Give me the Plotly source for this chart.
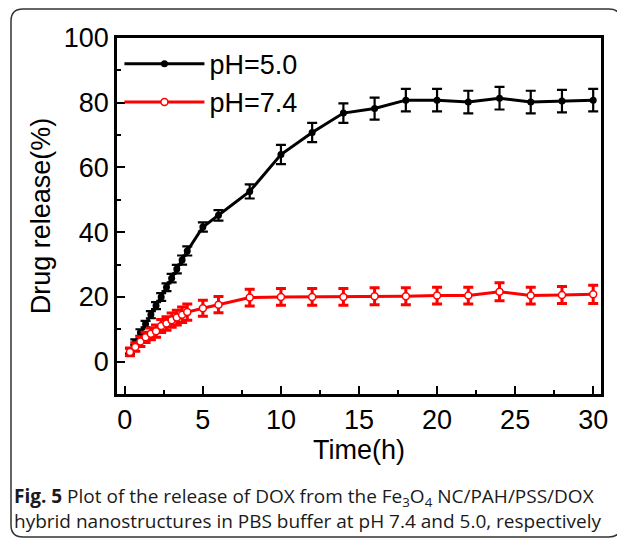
import plotly.graph_objects as go

# Time points (h)
time_h = [0.33, 0.67, 1.0, 1.33, 1.67, 2.0, 2.33, 2.67, 3.0, 3.33, 3.67, 4.0,
          5, 6, 8, 10, 12, 14, 16, 18, 20, 22, 24, 26, 28, 30]

# pH 5.0 release (%) and error
ph50 = [3.3, 6.0, 9.0, 11.6, 14.5, 17.3, 20.0, 23.0, 25.8, 28.6, 31.4, 34.2,
        41.6, 45.2, 52.6, 64.0, 70.8, 76.8, 78.2, 80.8, 80.8, 80.2, 81.4, 80.2, 80.5, 80.8]
ph50_err = [0.8, 0.9, 1.0, 1.0, 1.1, 1.1, 1.2, 1.2, 1.3, 1.3, 1.4, 1.4,
            1.4, 1.6, 2.2, 3.0, 3.0, 3.0, 3.4, 3.5, 3.5, 3.5, 3.5, 3.5, 3.5, 3.5]

# pH 7.4 release (%) and error
ph74 = [3.0, 4.5, 6.2, 7.5, 8.6, 9.4, 11.0, 11.8, 12.8, 13.6, 14.5, 15.3,
        16.5, 17.6, 19.8, 20.0, 20.0, 20.0, 20.2, 20.2, 20.4, 20.4, 21.6, 20.4, 20.6, 20.8]
ph74_err = [1.2, 1.3, 1.5, 1.6, 1.8, 1.9, 2.0, 2.1, 2.2, 2.3, 2.4, 2.5,
            2.5, 2.5, 2.6, 2.6, 2.6, 2.6, 2.6, 2.6, 2.6, 2.6, 2.8, 2.6, 2.6, 2.8]

x_ticks = [0, 5, 10, 15, 20, 25, 30]
y_ticks = [0, 20, 40, 60, 80, 100]

FONT = "Arial, Liberation Sans, sans-serif"
FS = 27

# page offset of the figure div (body margin)
OFF = 8
FW, FH = 625 - OFF, 539 - OFF

fig = go.Figure()
fig.add_trace(go.Scatter(
    x=time_h, y=ph50, name="pH=5.0", mode="lines+markers",
    line=dict(color="black", width=3),
    marker=dict(symbol="circle", size=7, color="black"),
    error_y=dict(type="data", array=ph50_err, visible=True,
                 color="black", thickness=2.2, width=5),
))
fig.add_trace(go.Scatter(
    x=time_h, y=ph74, name="pH=7.4", mode="lines+markers",
    line=dict(color="#ff0000", width=3),
    marker=dict(symbol="circle", size=7, color="white",
                line=dict(color="#ff0000", width=1.5)),
    error_y=dict(type="data", array=ph74_err, visible=True,
                 color="#ff0000", thickness=3, width=5),
))

# plot area in screen pixels: x 117..601, y 38..394
L, R, T, B = 117, 601, 38, 394
W, H = R - L, B - T

def px(x):
    return (x - L) / W

def py(y):
    return (B - y) / H

# rounded outer frame (screen pixels)
x0, x1, y0, y1, r = 11, 621, 9, 537, 12
path = (f"M {px(x0+r)},{py(y0)} L {px(x1-r)},{py(y0)} "
        f"Q {px(x1)},{py(y0)} {px(x1)},{py(y0+r)} "
        f"L {px(x1)},{py(y1-r)} Q {px(x1)},{py(y1)} {px(x1-r)},{py(y1)} "
        f"L {px(x0+r)},{py(y1)} Q {px(x0)},{py(y1)} {px(x0)},{py(y1-r)} "
        f"L {px(x0)},{py(y0+r)} Q {px(x0)},{py(y0)} {px(x0+r)},{py(y0)} Z")

fig.update_layout(
    width=FW, height=FH,
    margin=dict(l=L - OFF, r=625 - R, t=T - OFF, b=539 - B),
    paper_bgcolor="white", plot_bgcolor="white",
    font=dict(family=FONT, size=FS, color="black"),
    showlegend=True,
    legend=dict(x=0.005, y=0.995, xanchor="left", yanchor="top",
                bgcolor="rgba(0,0,0,0)", font=dict(size=FS),
                itemwidth=80, tracegroupgap=0),
    shapes=[dict(type="path", path=path, xref="paper", yref="paper",
                 line=dict(color="#333333", width=1.5), layer="below")],
    annotations=[dict(
        text=("<b>Fig. 5</b> Plot of the release of DOX from the Fe<sub>3</sub>O<sub>4</sub> "
              "NC/PAH/PSS/DOX<br>hybrid nanostructures in PBS buffer at pH 7.4 and 5.0, respectively"),
        xref="paper", yref="paper", x=px(12), y=py(481), xanchor="left", yanchor="top",
        align="left", showarrow=False,
        font=dict(family="Open Sans, sans-serif", size=19, color="#1a1a1a"))],
)

fig.update_xaxes(
    range=[-0.5, 30.5], tickvals=x_ticks, ticktext=[str(v) for v in x_ticks],
    ticks="inside", ticklen=8, tickwidth=2, tickcolor="black",
    minor=dict(dtick=2.5, tick0=0, ticks="inside", ticklen=4, tickwidth=2, tickcolor="black"),
    showline=True, linewidth=2.5, linecolor="black", mirror=True,
    showgrid=False, zeroline=False,
    title=dict(text="Time(h)", font=dict(size=FS), standoff=2),
    tickfont=dict(size=FS),
)
fig.update_yaxes(
    range=[-10, 100], tickvals=y_ticks, ticktext=[str(v) for v in y_ticks],
    ticks="inside", ticklen=8, tickwidth=2, tickcolor="black",
    minor=dict(dtick=10, tick0=0, ticks="inside", ticklen=4, tickwidth=2, tickcolor="black"),
    showline=True, linewidth=2.5, linecolor="black", mirror=True,
    showgrid=False, zeroline=False,
    title=dict(text="Drug release(%)", font=dict(size=FS), standoff=6),
    tickfont=dict(size=FS),
)

fig.write_html("out.html")
